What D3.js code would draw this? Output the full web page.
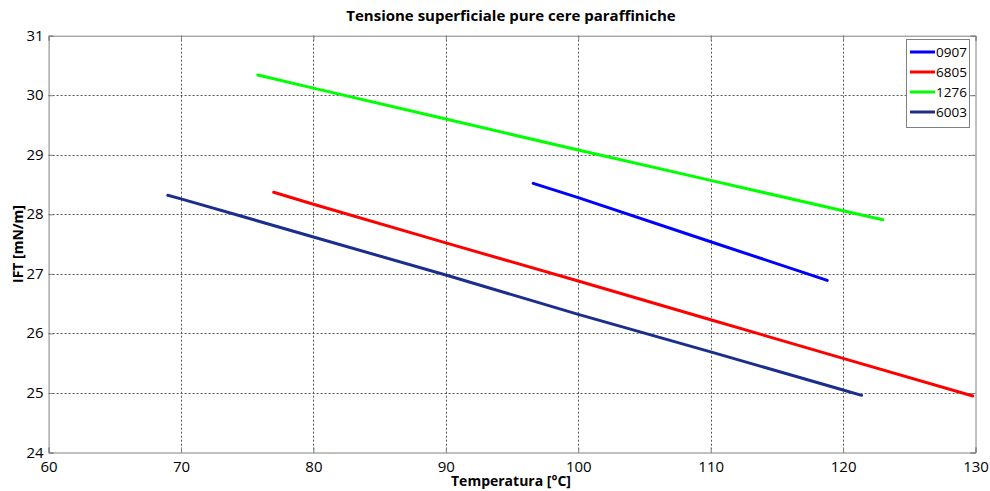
<!DOCTYPE html>
<html>
<head>
<meta charset="utf-8">
<script src="https://cdn.jsdelivr.net/npm/d3@7.9.0/dist/d3.min.js"></script>
<style>
  body { margin: 0; background: #fff; }
  text { font-family: "Open Sans", "Noto Sans", sans-serif; fill: #000; }
</style>
</head>
<body>
<svg id="chart" width="990" height="491"></svg>
<script>
// Surface tension of pure paraffin waxes vs temperature
const series = ['0907', '6805', '1276', '6003'];
const colors = ['#0000ff', '#ff0000', '#00ff00', '#1c2e8c'];

const temp0907 = [96.6, 100, 110, 118.8];
const ift0907  = [28.52, 28.28, 27.54, 26.89];

const temp6805 = [77.0, 80, 90, 100, 110, 120, 129.8];
const ift6805  = [28.37, 28.17, 27.52, 26.88, 26.23, 25.58, 24.95];

const temp1276 = [75.8, 80, 90, 100, 110, 120, 123.0];
const ift1276  = [30.34, 30.12, 29.6, 29.08, 28.57, 28.06, 27.91];

const temp6003 = [69.0, 70, 80, 90, 100, 110, 120, 121.4];
const ift6003  = [28.32, 28.26, 27.62, 26.98, 26.32, 25.69, 25.05, 24.96];

const xTicks = [60, 70, 80, 90, 100, 110, 120, 130];
const yTicks = [24, 25, 26, 27, 28, 29, 30, 31];

const lines = [
  { name: series[0], color: colors[0], pts: d3.zip(temp0907, ift0907) },
  { name: series[1], color: colors[1], pts: d3.zip(temp6805, ift6805) },
  { name: series[2], color: colors[2], pts: d3.zip(temp1276, ift1276) },
  { name: series[3], color: colors[3], pts: d3.zip(temp6003, ift6003) }
];

const svg = d3.select('#chart');
const plotL = 48.6, plotR = 975.5, plotT = 35.7, plotB = 452.5;

const x = d3.scaleLinear().domain([60, 130]).range([plotL, plotR]);
const y = d3.scaleLinear().domain([24, 31]).range([plotB, plotT]);

// dotted grid
const grid = svg.append('g')
  .attr('stroke', '#555')
  .attr('stroke-width', 1)
  .attr('stroke-dasharray', '2,2');
grid.selectAll('line.gx')
  .data(xTicks.slice(1, -1))
  .join('line')
  .attr('class', 'gx')
  .attr('x1', d => Math.round(x(d)) + 0.5).attr('x2', d => Math.round(x(d)) + 0.5)
  .attr('y1', plotT).attr('y2', plotB);
grid.selectAll('line.gy')
  .data(yTicks.slice(1, -1))
  .join('line')
  .attr('class', 'gy')
  .attr('y1', d => Math.round(y(d)) + 0.5).attr('y2', d => Math.round(y(d)) + 0.5)
  .attr('x1', plotL).attr('x2', plotR);

// axes: ticks point inward, labels outside
const fmt = d3.format('d');
const xAxis = svg.append('g')
  .attr('transform', `translate(0,${plotB})`)
  .call(d3.axisBottom(x).tickValues(xTicks).tickFormat(fmt).tickSize(-5).tickPadding(7));
const yAxis = svg.append('g')
  .attr('transform', `translate(${plotL},0)`)
  .call(d3.axisLeft(y).tickValues(yTicks).tickFormat(fmt).tickSize(-5).tickPadding(5));
svg.append('g')
  .attr('transform', `translate(0,${plotT})`)
  .call(d3.axisTop(x).tickValues(xTicks).tickSize(-5).tickFormat(''));
svg.append('g')
  .attr('transform', `translate(${plotR},0)`)
  .call(d3.axisRight(y).tickValues(yTicks).tickSize(-5).tickFormat(''));

svg.selectAll('.domain').attr('stroke', '#808080');
svg.selectAll('.tick line').attr('stroke', '#808080');
svg.selectAll('.tick text').attr('font-size', 15).attr('fill', '#000')
  .style('font-family', '"Open Sans", sans-serif');
xAxis.selectAll('.tick text').attr('dy', '0.8em');
yAxis.selectAll('.tick text').attr('dy', '0.3em');

// data lines
const line = d3.line().x(d => x(d[0])).y(d => y(d[1]));
svg.append('g').selectAll('path')
  .data(lines)
  .join('path')
  .attr('d', d => line(d.pts))
  .attr('fill', 'none')
  .attr('stroke', d => d.color)
  .attr('stroke-width', 3)
  .attr('stroke-linecap', 'round');

// title and axis labels
svg.append('text')
  .attr('x', 511).attr('y', 21)
  .attr('text-anchor', 'middle')
  .attr('font-size', 15).attr('font-weight', 'bold')
  .text('Tensione superficiale pure cere paraffiniche');
svg.append('text')
  .attr('x', 511).attr('y', 486)
  .attr('text-anchor', 'middle')
  .attr('font-size', 14).attr('font-weight', 'bold')
  .text('Temperatura [°C]');
svg.append('text')
  .attr('transform', 'translate(23,244) rotate(-90)')
  .attr('text-anchor', 'middle')
  .attr('font-size', 14).attr('font-weight', 'bold')
  .text('IFT [mN/m]');

// legend
const legend = svg.append('g');
legend.append('rect')
  .attr('x', 906.5).attr('y', 39.5).attr('width', 63).attr('height', 88)
  .attr('fill', '#fff').attr('stroke', '#808080');
const item = legend.selectAll('g.item')
  .data(lines)
  .join('g')
  .attr('class', 'item')
  .attr('transform', (d, i) => `translate(0,${52 + i * 20})`);
item.append('line')
  .attr('x1', 910).attr('x2', 935)
  .attr('stroke', d => d.color).attr('stroke-width', 3);
item.append('text')
  .attr('x', 936).attr('dy', '0.35em')
  .attr('font-size', 13.5)
  .text(d => d.name);
</script>
</body>
</html>
